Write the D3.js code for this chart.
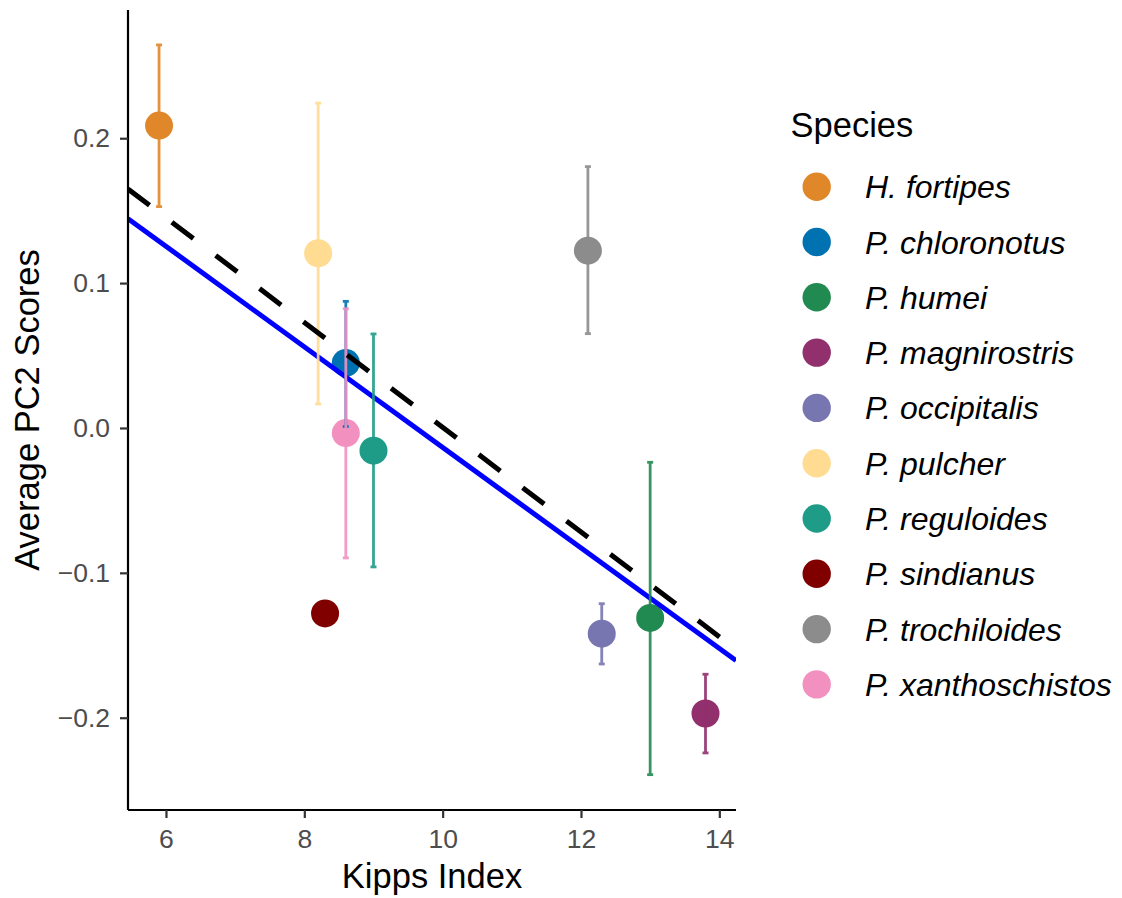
<!DOCTYPE html>
<html>
<head>
<meta charset="utf-8">
<script src="https://cdn.jsdelivr.net/npm/d3@7"></script>
<style>
  html, body { margin: 0; padding: 0; background: #ffffff; }
  svg { display: block; font-family: "Liberation Sans", Arial, Helvetica, sans-serif; }
</style>
</head>
<body>
<svg id="chart" width="1122" height="898"></svg>
<script>
// ---- data ----
const species = ["H. fortipes", "P. chloronotus", "P. humei", "P. magnirostris", "P. occipitalis",
                 "P. pulcher", "P. reguloides", "P. sindianus", "P. trochiloides", "P. xanthoschistos"];
const kipps   = [5.9, 8.6, 13.0, 13.8, 12.3, 8.2, 9.0, 8.3, 12.1, 8.6];
const pc2     = [0.2087, 0.0449, -0.1311, -0.1971, -0.1420, 0.1206, -0.0157, -0.1280, 0.1224, -0.0035];
const pc2Low  = [0.1528, 0.0010, -0.2393, -0.2243, -0.1629, 0.0166, -0.0959, null, 0.0651, -0.0897];
const pc2High = [0.2644, 0.0874, -0.0237, -0.1700, -0.1213, 0.2242, 0.0649, null, 0.1804, 0.0823];
const colors  = ["#E0872A", "#0072B2", "#218A50", "#922F6D", "#7876B1",
                 "#FFDC91", "#1F9C88", "#800000", "#8C8C8C", "#F291C0"];
const xTicks = [6, 8, 10, 12, 14];
const yTicks = [-0.2, -0.1, 0.0, 0.1, 0.2];
const xDomain = [5.451, 14.241];
const yDomain = [-0.2637, 0.2885];
// fitted lines: y = intercept + slope * x
const fitSolid  = { intercept: 0.3336, slope: -0.0347 };
const fitDashed = { intercept: 0.3620, slope: -0.03615 };

// ---- layout ----
const L = 128, R = 736, T = 10, B = 810;
const svg = d3.select("#chart");
const x = d3.scaleLinear().domain(xDomain).range([L, R]);
const y = d3.scaleLinear().domain(yDomain).range([B, T]);
const color = d3.scaleOrdinal().domain(species).range(colors);

const data = species.map((s, i) => ({ s, x: kipps[i], y: pc2[i], lo: pc2Low[i], hi: pc2High[i] }));

svg.append("defs").append("clipPath").attr("id", "clip")
  .append("rect").attr("x", L).attr("y", T).attr("width", R - L).attr("height", B - T);

const panel = svg.append("g").attr("clip-path", "url(#clip)");

// points
panel.selectAll("circle.pt").data(data).enter().append("circle")
  .attr("class", "pt")
  .attr("cx", d => x(d.x)).attr("cy", d => y(d.y)).attr("r", 14)
  .attr("fill", d => color(d.s));

// solid regression line
panel.append("line")
  .attr("x1", x(xDomain[0])).attr("y1", y(fitSolid.intercept + fitSolid.slope * xDomain[0]))
  .attr("x2", x(xDomain[1])).attr("y2", y(fitSolid.intercept + fitSolid.slope * xDomain[1]))
  .attr("stroke", "#0000FF").attr("stroke-width", 5);

// error bars
const eb = panel.selectAll("g.eb").data(data.filter(d => d.lo !== null)).enter().append("g")
  .attr("class", "eb").attr("stroke", d => color(d.s)).attr("stroke-width", 2.8).attr("opacity", 0.9);
eb.append("line").attr("x1", d => x(d.x)).attr("x2", d => x(d.x))
  .attr("y1", d => y(d.lo)).attr("y2", d => y(d.hi));
eb.append("line").attr("x1", d => x(d.x) - 3).attr("x2", d => x(d.x) + 3)
  .attr("y1", d => y(d.lo)).attr("y2", d => y(d.lo));
eb.append("line").attr("x1", d => x(d.x) - 3).attr("x2", d => x(d.x) + 3)
  .attr("y1", d => y(d.hi)).attr("y2", d => y(d.hi));

// dashed regression line
panel.append("line")
  .attr("x1", x(xDomain[0])).attr("y1", y(fitDashed.intercept + fitDashed.slope * xDomain[0]))
  .attr("x2", x(xDomain[1])).attr("y2", y(fitDashed.intercept + fitDashed.slope * xDomain[1]))
  .attr("stroke", "#000000").attr("stroke-width", 5).attr("stroke-dasharray", "27,28");

// axes
const xAxis = svg.append("g").attr("transform", `translate(0,${B})`)
  .call(d3.axisBottom(x).tickValues(xTicks).tickSize(8).tickPadding(11).tickFormat(d3.format("d")));
const yAxis = svg.append("g").attr("transform", `translate(${L},0)`)
  .call(d3.axisLeft(y).tickValues(yTicks).tickSize(8).tickPadding(10).tickFormat(d3.format(".1f")));
[xAxis, yAxis].forEach(g => {
  g.select(".domain").attr("stroke", "#000").attr("stroke-width", 2.2);
  g.selectAll(".tick line").attr("stroke", "#333333").attr("stroke-width", 2.2);
  g.selectAll(".tick text").attr("fill", "#4D4D4D").style("font-size", "26.5px")
    .style("font-family", "'Liberation Sans', Arial, sans-serif");
});
xAxis.select(".domain").attr("d", `M${L},0H${R}`);
yAxis.select(".domain").attr("d", `M0,${T}V${B}`);

// axis titles
svg.append("text").attr("x", (L + R) / 2).attr("y", 888).attr("text-anchor", "middle")
  .style("font-size", "34.5px").attr("fill", "#000").text("Kipps Index");
svg.append("text").attr("transform", `translate(39,${(T + B) / 2}) rotate(-90)`)
  .attr("text-anchor", "middle").style("font-size", "34.5px").attr("fill", "#000").text("Average PC2 Scores");

// legend
const lg = svg.append("g");
lg.append("text").attr("x", 790.5).attr("y", 137).style("font-size", "34.5px").attr("fill", "#000").text("Species");
const items = lg.selectAll("g.item").data(species).enter().append("g")
  .attr("class", "item").attr("transform", (d, i) => `translate(0,${186.7 + i * 55.3})`);
items.append("circle").attr("cx", 816.7).attr("cy", 0).attr("r", 14.2).attr("fill", d => color(d));
items.append("text").attr("x", 865).attr("y", 0).attr("dy", "0.36em")
  .style("font-size", "32px").style("font-style", "italic").attr("fill", "#000").text(d => d);
</script>
</body>
</html>
